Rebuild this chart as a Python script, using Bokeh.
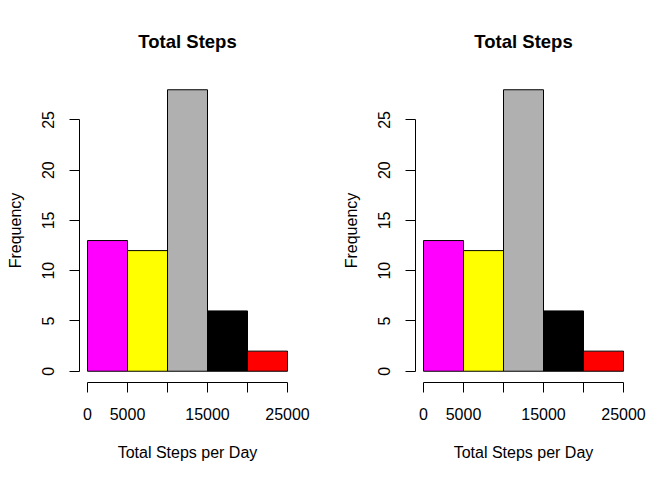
from bokeh.plotting import figure
from bokeh.layouts import row
from bokeh.models import Range1d, FixedTicker
from bokeh.embed import file_html
from bokeh.resources import INLINE

# Data
bin_edges = [0, 5000, 10000, 15000, 20000, 25000]
counts = [13, 12, 28, 6, 2]
bar_colors = ["#FF00FF", "#FFFF00", "#B0B0B0", "#000000", "#FF0000"]
x_ticks = [0, 5000, 10000, 15000, 20000, 25000]
x_tick_labels = {0: "0", 5000: "5000", 10000: "", 15000: "15000", 20000: "", 25000: "25000"}
y_ticks = [0, 5, 10, 15, 20, 25]
title_text = "Total Steps"
x_label = "Total Steps per Day"
y_label = "Frequency"

FONT = "Liberation Sans"


def make_panel():
    p = figure(width=336, height=480, output_backend="svg", toolbar_location=None,
               x_range=Range1d(-1000, 26000), y_range=Range1d(-1.12, 29.12),
               min_border_left=79, min_border_right=41, min_border_top=78, min_border_bottom=98,
               title=title_text)
    p.quad(left=bin_edges[:-1], right=bin_edges[1:], bottom=0, top=counts,
           fill_color=bar_colors, line_color="black", line_width=1)
    p.grid.visible = False
    p.outline_line_color = None
    p.background_fill_color = "white"
    p.border_fill_color = "white"

    p.title.align = "center"
    p.title.text_font = FONT
    p.title.text_font_size = "18.5px"
    p.title.text_font_style = "bold"
    p.title.text_color = "black"
    p.title.standoff = 53

    xa = p.xaxis[0]
    xa.ticker = FixedTicker(ticks=x_ticks)
    xa.major_label_overrides = x_tick_labels
    xa.bounds = (0, 25000)
    xa.minor_tick_line_color = None
    xa.major_tick_out = 10
    xa.major_tick_in = 0
    xa.major_label_standoff = 15
    xa.axis_label = x_label
    xa.axis_label_standoff = 21

    ya = p.yaxis[0]
    ya.ticker = FixedTicker(ticks=y_ticks)
    ya.bounds = (0, 25)
    ya.minor_tick_line_color = None
    ya.major_tick_out = 10
    ya.major_tick_in = 0
    ya.major_label_orientation = "vertical"
    ya.major_label_standoff = 15
    ya.axis_label = y_label
    ya.axis_label_standoff = 16

    for ax in (xa, ya):
        ax.axis_line_color = "black"
        ax.major_tick_line_color = "black"
        ax.major_label_text_font = FONT
        ax.major_label_text_font_size = "16px"
        ax.major_label_text_color = "black"
        ax.axis_label_text_font = FONT
        ax.axis_label_text_font_size = "16px"
        ax.axis_label_text_font_style = "normal"
        ax.axis_label_text_color = "black"
    return p


p1 = make_panel()
p2 = make_panel()
layout = row(p1, p2)

open("out.html", "w").write(file_html(layout, INLINE))
